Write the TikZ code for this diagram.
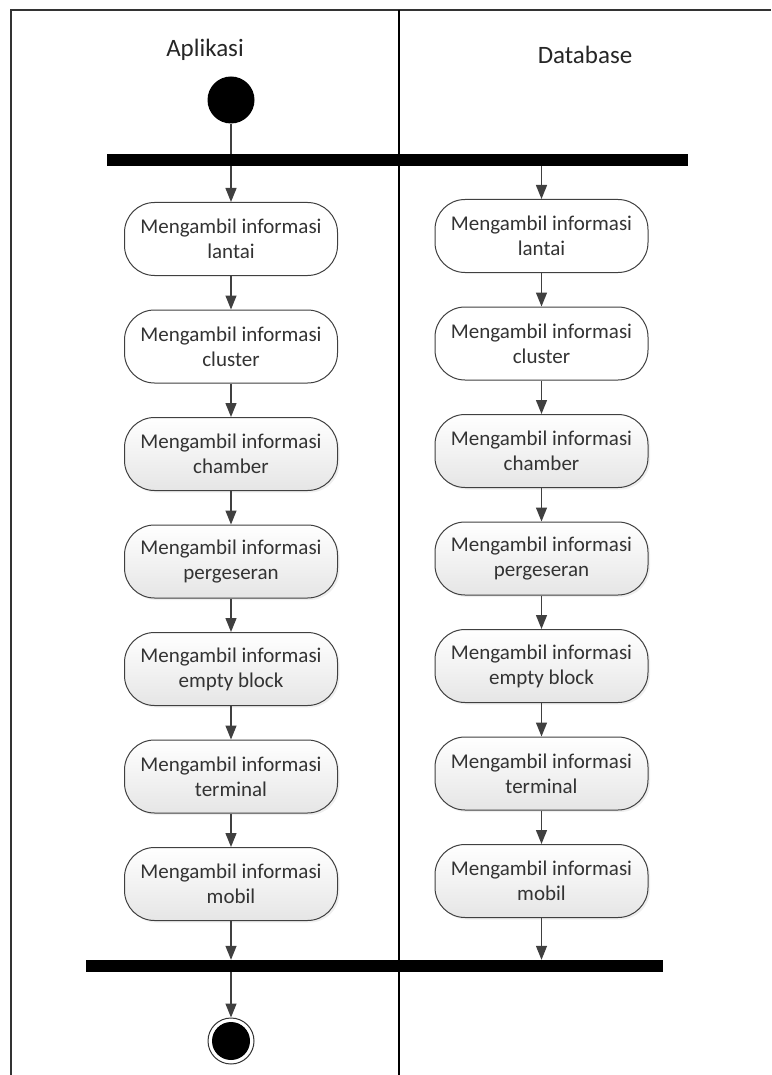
\documentclass[tikz,border=0pt]{standalone}
\usepackage{fontspec}
\setmainfont{Carlito}
\usetikzlibrary{arrows.meta,shadows}
\begin{document}
\begin{tikzpicture}[x=1pt,y=-1pt,
  act/.style={draw=black!75, line width=1pt, rounded corners=30pt,
    minimum width=213pt, minimum height=73pt, align=center,
    font=\fontsize{21}{25}\selectfont, text=black!80, inner sep=0pt},
  plain/.style={act, fill=white},
  shaded/.style={act, top color=white, bottom color=black!10,
    drop shadow={opacity=0.12, shadow xshift=2pt, shadow yshift=-2pt}},
  bar/.style={fill=black, draw=none, inner sep=0pt, minimum height=12pt},
  flow/.style={draw=black!75, line width=1.3pt,
    -{Triangle[length=14pt,width=11pt]}},
  link/.style={draw=black!75, line width=1.3pt},
  lane/.style={font=\fontsize{25}{30}\selectfont, text=black!85}]
\useasboundingbox (0,0) rectangle (771,1075);
\fill[white] (0,0) rectangle (771,1075);

% swimlane frame and divider
\draw[black!80, line width=1.8pt] (11,1075) -- (11,10) -- (771,10);
\draw[black, line width=1.2pt] (399,10) -- (399,1075);
\node[lane] (appl) at (205,50) {Aplikasi};
\node[lane] (dbl) at (585,55) {Database};

% initial node and fork
\node[circle, fill=black, minimum size=47pt, inner sep=0pt] (start) at (231,100) {};
\node[bar, minimum width=581pt] (fork) at (397.5,160) {};

% Aplikasi activities
\node[plain]  (a1) at (231,239)   {Mengambil informasi\\lantai};
\node[plain]  (a2) at (231,346.5) {Mengambil informasi\\cluster};
\node[shaded] (a3) at (231,454)   {Mengambil informasi\\chamber};
\node[shaded] (a4) at (231,561.5) {Mengambil informasi\\pergeseran};
\node[shaded] (a5) at (231,669)   {Mengambil informasi\\empty block};
\node[shaded] (a6) at (231,776.5) {Mengambil informasi\\terminal};
\node[shaded] (a7) at (231,884)   {Mengambil informasi\\mobil};

% Database activities
\node[plain]  (d1) at (541.5,236)   {Mengambil informasi\\lantai};
\node[plain]  (d2) at (541.5,343.5) {Mengambil informasi\\cluster};
\node[shaded] (d3) at (541.5,451)   {Mengambil informasi\\chamber};
\node[shaded] (d4) at (541.5,558.5) {Mengambil informasi\\pergeseran};
\node[shaded] (d5) at (541.5,666)   {Mengambil informasi\\empty block};
\node[shaded] (d6) at (541.5,773.5) {Mengambil informasi\\terminal};
\node[shaded] (d7) at (541.5,881)   {Mengambil informasi\\mobil};

% join and final node
\node[bar, minimum width=577pt] (join) at (374.5,966) {};
\node[circle, draw=black!80, line width=1pt, minimum size=46pt, inner sep=0pt] (stop) at (231,1041) {};
\node[circle, fill=black, minimum size=38pt, inner sep=0pt] (stopin) at (stop.center) {};

% control flow
\draw[link] (start.south) -- (fork.north -| start.south);
\draw[flow] (fork.south -| a1.north) -- (a1.north);
\draw[flow] (fork.south -| d1.north) -- (d1.north);
\foreach \u/\v in {a1/a2,a2/a3,a3/a4,a4/a5,a5/a6,a6/a7,
                   d1/d2,d2/d3,d3/d4,d4/d5,d5/d6,d6/d7}
  \draw[flow] (\u.south) -- (\v.north);
\draw[flow] (a7.south) -- (join.north -| a7.south);
\draw[flow] (d7.south) -- (join.north -| d7.south);
\draw[flow] (join.south -| stop.north) -- (stop.north);
\end{tikzpicture}
\end{document}
